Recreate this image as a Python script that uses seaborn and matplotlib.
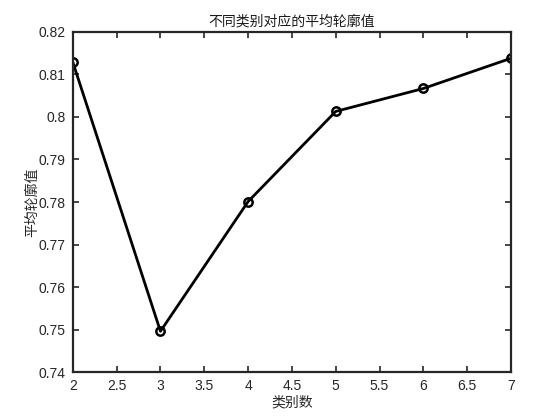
import matplotlib
matplotlib.use("Agg")
import matplotlib.pyplot as plt
import seaborn as sns
import pandas as pd

# values
k_values = [2, 3, 4, 5, 6, 7]
mean_silhouette = [0.8129, 0.7496, 0.7801, 0.8013, 0.8067, 0.8138]
x_ticks = [2, 2.5, 3, 3.5, 4, 4.5, 5, 5.5, 6, 6.5, 7]
x_tick_labels = ["2", "2.5", "3", "3.5", "4", "4.5", "5", "5.5", "6", "6.5", "7"]
y_ticks = [0.74, 0.75, 0.76, 0.77, 0.78, 0.79, 0.8, 0.81, 0.82]
y_tick_labels = ["0.74", "0.75", "0.76", "0.77", "0.78", "0.79", "0.8", "0.81", "0.82"]

sns.set_style("ticks")
plt.rcParams['font.family'] = ['Noto Sans CJK SC', 'DejaVu Sans']

df = pd.DataFrame({"k": k_values, "s": mean_silhouette})

fig = plt.figure(figsize=(5.6, 4.2), dpi=100)
ax = fig.add_axes([0.130, 0.114, 0.7825, 0.810])

sns.lineplot(data=df, x="k", y="s", ax=ax, color="black", linewidth=2,
             marker="o", markersize=6, markerfacecolor="none",
             markeredgecolor="black", markeredgewidth=1.8)

ax.set_xlim(2, 7)
ax.set_ylim(0.74, 0.82)
ax.set_xticks(x_ticks)
ax.set_xticklabels(x_tick_labels, family=['Liberation Sans', 'DejaVu Sans'])
ax.set_yticks(y_ticks)
ax.set_yticklabels(y_tick_labels, family=['Liberation Sans', 'DejaVu Sans'])
ax.tick_params(direction="in", length=4, width=1.2, top=True, right=True,
               labelsize=10, colors="#262626", pad=5)
for sp in ax.spines.values():
    sp.set_visible(True)
    sp.set_linewidth(1.6)
    sp.set_color("#262626")

ax.set_title("不同类别对应的平均轮廓值", fontsize=10, color="#1a1a1a", pad=5)
ax.set_xlabel("类别数", fontsize=10, color="#262626", labelpad=2)
ax.set_ylabel("平均轮廓值", fontsize=10, color="#262626", labelpad=0)

fig.savefig("out.png", dpi=100)
